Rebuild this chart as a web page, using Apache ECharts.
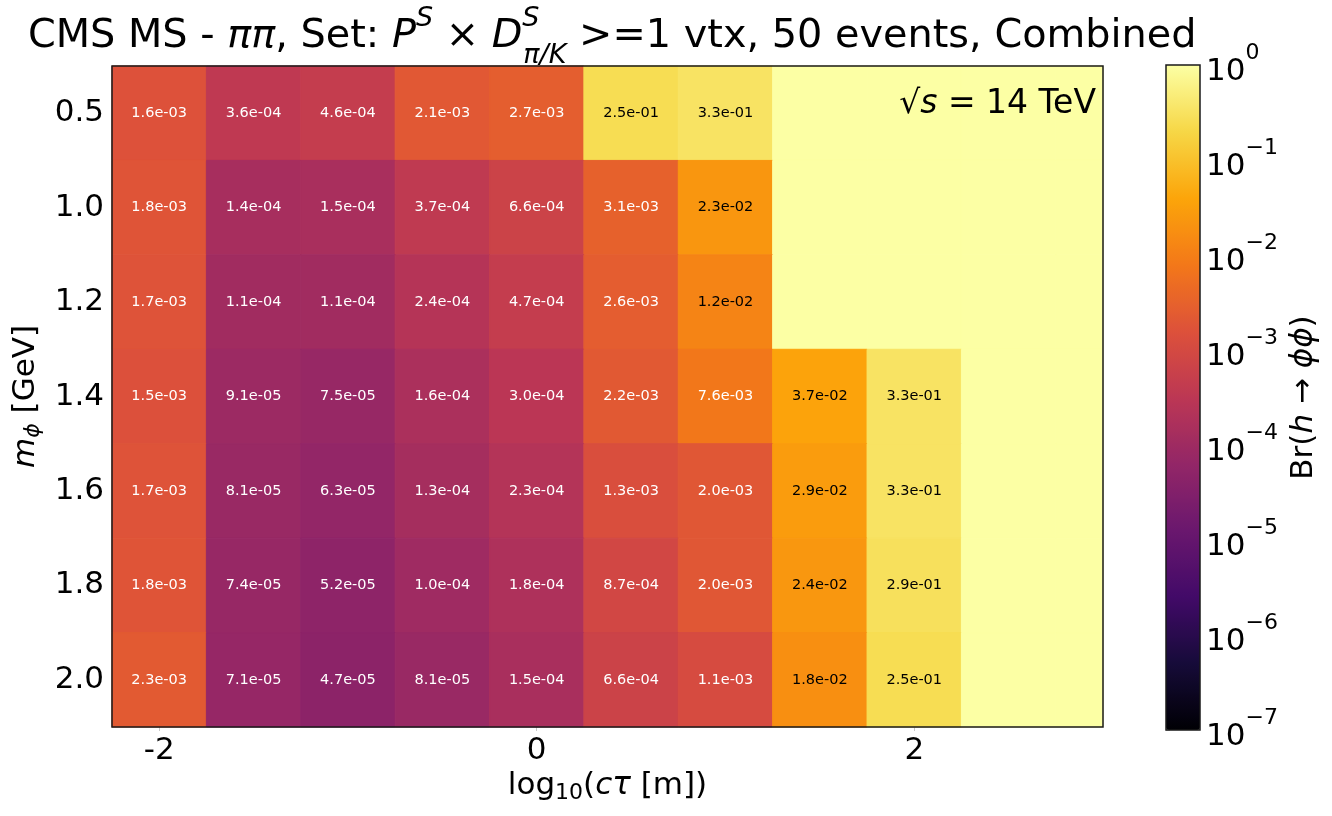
<!DOCTYPE html>
<html><head><meta charset="utf-8">
<script src="https://cdn.jsdelivr.net/npm/echarts@6/dist/echarts.min.js"></script>
<style>html,body{margin:0;padding:0;background:#fff}#c{width:1332px;height:816px}</style>
</head><body><div id="c"></div>
<script>
// ---- data ----
const ctauLog = [-2, -1.5, -1, -0.5, 0, 0.5, 1, 1.5, 2, 2.5, 3];
const massLabels = ['0.5', '1.0', '1.2', '1.4', '1.6', '1.8', '2.0'];
const br_m0p5 = [1.6e-3, 3.6e-4, 4.6e-4, 2.1e-3, 2.7e-3, 2.5e-1, 3.3e-1, null, null, null, null];
const br_m1p0 = [1.8e-3, 1.4e-4, 1.5e-4, 3.7e-4, 6.6e-4, 3.1e-3, 2.3e-2, null, null, null, null];
const br_m1p2 = [1.7e-3, 1.1e-4, 1.1e-4, 2.4e-4, 4.7e-4, 2.6e-3, 1.2e-2, null, null, null, null];
const br_m1p4 = [1.5e-3, 9.1e-5, 7.5e-5, 1.6e-4, 3.0e-4, 2.2e-3, 7.6e-3, 3.7e-2, 3.3e-1, null, null];
const br_m1p6 = [1.7e-3, 8.1e-5, 6.3e-5, 1.3e-4, 2.3e-4, 1.3e-3, 2.0e-3, 2.9e-2, 3.3e-1, null, null];
const br_m1p8 = [1.8e-3, 7.4e-5, 5.2e-5, 1.0e-4, 1.8e-4, 8.7e-4, 2.0e-3, 2.4e-2, 2.9e-1, null, null];
const br_m2p0 = [2.3e-3, 7.1e-5, 4.7e-5, 8.1e-5, 1.5e-4, 6.6e-4, 1.1e-3, 1.8e-2, 2.5e-1, null, null];
const xTickValues = [-2, 0, 2];
const cbarExponents = [-7, -6, -5, -4, -3, -2, -1, 0];
const inferno = ['#000004', '#160b39', '#420a68', '#6a176e', '#932667', '#bc3754',
                 '#dd513a', '#f37819', '#fca50a', '#f6d746', '#fcffa4'];

// ---- build ----
const rows = [br_m0p5, br_m1p0, br_m1p2, br_m1p4, br_m1p6, br_m1p8, br_m2p0];
const cells = [];
rows.forEach((row, r) => row.forEach((v, c) => {
  const has = v !== null;
  cells.push([ctauLog[c], r, has ? Math.log10(v) : 0, has ? v : 0]);
}));
function fmt(v) { return v.toExponential(1).replace(/e([+-])(\d)$/, 'e$10$2'); }

const FONT = 'DejaVu Sans';
const base = {fontFamily: FONT, color: '#000', fontWeight: 'normal'};
const chart = echarts.init(document.getElementById('c'), null, {renderer: 'canvas'});
chart.setOption({
  backgroundColor: '#ffffff',
  textStyle: {fontFamily: FONT},
  title: [{
    left: 23, top: 0,
    text: '{n|CMS MS - }{i|ππ}{n|, Set: }{i|P}{sup|S}{n| × }{i|D}{sup2|S}{sub|π/K}{n| >=1 vtx, 50 events, Combined}',
    textStyle: {
      fontFamily: FONT, fontWeight: 'normal', color: '#000',
      rich: {
        n: Object.assign({fontSize: 39.8, padding: [12, 0, 12, 0]}, base),
        i: Object.assign({fontSize: 39.8, fontStyle: 'italic', padding: [12, 0, 12, 0]}, base),
        sup: Object.assign({fontSize: 27, fontStyle: 'italic', verticalAlign: 'top'}, base),
        sup2: Object.assign({fontSize: 27, fontStyle: 'italic', verticalAlign: 'top', width: 1}, base),
        sub: Object.assign({fontSize: 27, fontStyle: 'italic', verticalAlign: 'bottom'}, base)
      }
    }
  }, {
    right: 231, top: 83,
    text: '{n|√}{i|s}{n| = 14 TeV}',
    textStyle: {
      fontWeight: 'normal',
      rich: {
        n: Object.assign({fontSize: 33}, base),
        i: Object.assign({fontSize: 33, fontStyle: 'italic'}, base)
      }
    }
  }],
  grid: [
    {left: 112, top: 66, width: 991, height: 661, show: true, borderColor: '#1a1a1a', borderWidth: 1.5, backgroundColor: 'transparent', z: 10},
    {left: 1166, top: 65, width: 34, height: 665, show: true, borderColor: '#1a1a1a', borderWidth: 1.5, backgroundColor: 'transparent', z: 10}
  ],
  xAxis: [{
    gridIndex: 0, type: 'value', min: -2.25, max: 3,
    axisLine: {show: false}, splitLine: {show: false},
    axisTick: {show: true, customValues: xTickValues, length: 4, lineStyle: {color: '#c8c8c8'}},
    axisLabel: {customValues: xTickValues, fontSize: 31, color: '#000', margin: 8, fontFamily: FONT,
                formatter: v => String(v)},
    name: '{n|log}{sub|10}{n|(}{i|cτ}{n| [m])}',
    nameLocation: 'middle', nameGap: 41,
    nameTextStyle: {
      rich: {
        n: Object.assign({fontSize: 31}, base),
        i: Object.assign({fontSize: 31, fontStyle: 'italic'}, base),
        sub: Object.assign({fontSize: 22, verticalAlign: 'bottom', padding: [14, 0, 0, 0]}, base)
      }
    }
  }, {
    gridIndex: 1, type: 'value', min: 0, max: 1, show: false
  }],
  yAxis: [{
    gridIndex: 0, type: 'category', data: massLabels, inverse: true,
    axisLine: {show: false}, splitLine: {show: false},
    axisTick: {show: true, alignWithLabel: true, length: 4, lineStyle: {color: '#c8c8c8'}},
    axisLabel: {fontSize: 31, color: '#000', margin: 8, fontFamily: FONT},
    name: '{i|m}{sub|ϕ}{n| [GeV]}',
    nameLocation: 'middle', nameGap: 66, nameRotate: 90,
    nameTextStyle: {
      rich: {
        n: Object.assign({fontSize: 31}, base),
        i: Object.assign({fontSize: 31, fontStyle: 'italic'}, base),
        sub: Object.assign({fontSize: 22, fontStyle: 'italic', verticalAlign: 'bottom', padding: [14, 0, 0, 0]}, base)
      }
    }
  }, {
    gridIndex: 1, type: 'value', min: -7, max: 0, interval: 1, position: 'right',
    axisLine: {show: false}, splitLine: {show: false},
    axisTick: {show: true, length: 4, lineStyle: {color: '#c8c8c8'}},
    axisLabel: {
      margin: 6,
      formatter: v => '{b|10}{s|' + (v === 0 ? '0' : '−' + (-v)) + '}',
      rich: {
        b: Object.assign({fontSize: 31, padding: [14, 0, 0, 0]}, base),
        s: Object.assign({fontSize: 22, verticalAlign: 'top'}, base)
      }
    },
    name: '{n|Br(}{i|h}{n| → }{i|ϕϕ}{n|)}',
    nameLocation: 'middle', nameGap: 88, nameRotate: 90,
    nameTextStyle: {
      rich: {
        n: Object.assign({fontSize: 31}, base),
        i: Object.assign({fontSize: 31, fontStyle: 'italic'}, base)
      }
    }
  }],
  visualMap: {
    type: 'continuous', min: -7, max: 0, dimension: 2, seriesIndex: 0,
    inRange: {color: inferno}, calculable: false, hoverLink: false,
    orient: 'vertical', left: 1166, top: 65, itemWidth: 34, itemHeight: 665,
    padding: 0, text: null, z: 4
  },
  series: [{
    type: 'custom', xAxisIndex: 0, yAxisIndex: 0,
    data: cells,
    renderItem: function (params, api) {
      const x = api.value(0), yi = api.value(1), raw = api.value(3);
      const c = api.coord([x, yi]);
      const s = api.size([0.5, 1]);
      const cs = params.coordSys;
      const shape = echarts.graphic.clipRectByRect(
        {x: c[0] - s[0] / 2, y: c[1] - s[1] / 2, width: s[0], height: s[1]},
        {x: cs.x, y: cs.y, width: cs.width, height: cs.height});
      if (!shape) return;
      const col = api.visual('color');
      const children = [{type: 'rect', shape: shape, style: {fill: col, stroke: col, lineWidth: 1}}];
      if (raw > 0) {
        children.push({
          type: 'text', x: c[0], y: c[1], z2: 10,
          style: {text: fmt(raw), fill: raw >= 1e-2 ? '#000' : '#fff',
                  fontSize: 14.5, fontFamily: FONT, align: 'center', verticalAlign: 'middle'}
        });
      }
      return {type: 'group', children: children};
    }
  }]
});
</script>
</body></html>
